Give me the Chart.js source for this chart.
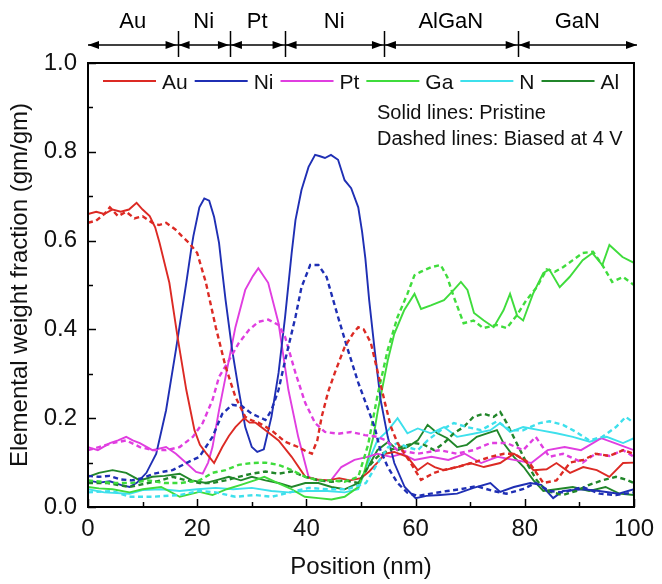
<!DOCTYPE html>
<html><head><meta charset="utf-8">
<script src="https://cdn.jsdelivr.net/npm/chart.js@4.4.1/dist/chart.umd.min.js"></script>
<style>html,body{margin:0;padding:0;background:#fff}#wrap{width:662px;height:584px}</style>
</head><body><div id="wrap"><canvas id="c" width="662" height="584"></canvas></div>
<script>
// ---------- DATA ----------
const elements = ['Au', 'Ni', 'Pt', 'Ga', 'N', 'Al'];
const xTickValues = [0, 20, 40, 60, 80, 100];
const yTickValues = [0.0, 0.2, 0.4, 0.6, 0.8, 1.0];
const regionEdges = [0, 16.4, 26.0, 36.0, 54.2, 78.7, 100];
const regionNames = ['Au', 'Ni', 'Pt', 'Ni', 'AlGaN', 'GaN'];
const noteLines = ['Solid lines: Pristine', 'Dashed lines: Biased at 4 V'];

const auSolid = [[0,0.66],[1.5,0.665],[3,0.66],[4.5,0.67],[6,0.665],[7.5,0.67],[8.9,0.685],[10,0.67],[11.3,0.655],[12.3,0.63],[13.1,0.595],[14.9,0.505],[16.4,0.383],[18,0.264],[19.5,0.173],[20.5,0.14],[21.6,0.122],[23.1,0.099],[24.6,0.135],[25.8,0.16],[27,0.18],[28.6,0.2],[29.6,0.19],[30.7,0.19],[32.5,0.173],[34.9,0.15],[37.3,0.113],[39.8,0.068],[42,0.062],[44,0.06],[46,0.065],[48,0.06],[50,0.065],[51.5,0.08],[53,0.1],[54.4,0.12],[56.1,0.124],[58.5,0.113],[60.4,0.083],[62.2,0.099],[63.5,0.09],[65.2,0.083],[67.6,0.09],[70,0.099],[72.5,0.09],[75.5,0.099],[78,0.12],[79.8,0.106],[81.6,0.083],[84,0.085],[85.8,0.099],[88.3,0.077],[90.7,0.09],[93.2,0.083],[95.5,0.068],[98,0.099],[100,0.1]];
const auDashed = [[0,0.64],[1.5,0.645],[3,0.66],[4,0.675],[5.5,0.655],[7,0.665],[8.5,0.65],[10,0.655],[11.8,0.64],[13,0.635],[14.3,0.64],[16,0.625],[17.2,0.61],[18.5,0.595],[20,0.572],[21.6,0.505],[23.4,0.405],[25.2,0.316],[27,0.248],[28.8,0.203],[30,0.195],[31.2,0.19],[33.6,0.173],[36.1,0.147],[38.5,0.135],[40,0.125],[41,0.12],[42,0.15],[42.8,0.203],[44,0.26],[45.2,0.302],[47,0.36],[48.5,0.39],[49.5,0.405],[50.5,0.4],[51.8,0.37],[53.1,0.302],[54.4,0.234],[55.5,0.18],[56.7,0.144],[59.1,0.099],[61,0.061],[63.4,0.077],[65,0.083],[67.6,0.09],[70.6,0.1],[73.7,0.113],[76.2,0.12],[78,0.12],[80.9,0.099],[83.4,0.054],[85.8,0.06],[88.3,0.1],[90.7,0.106],[93,0.12],[95.5,0.115],[98,0.128],[100,0.12]];
const niSolid = [[0,0.06],[2,0.055],[4,0.058],[6,0.05],[7.6,0.045],[9,0.055],[10.7,0.077],[12.5,0.12],[14.3,0.218],[16.1,0.354],[18,0.505],[18.9,0.58],[19.3,0.61],[20.4,0.675],[21.3,0.695],[22.2,0.69],[23.1,0.653],[24,0.595],[24.5,0.54],[25.2,0.466],[26.4,0.354],[27.6,0.264],[28.8,0.18],[30,0.135],[31,0.124],[32.2,0.13],[33.6,0.203],[34.9,0.302],[36.1,0.428],[37.3,0.572],[38,0.646],[39.1,0.714],[40.4,0.766],[41.6,0.793],[42.5,0.79],[43.4,0.786],[44.5,0.793],[45.8,0.782],[47,0.736],[48.2,0.718],[49.5,0.675],[50.2,0.62],[50.8,0.56],[51.5,0.466],[52.5,0.354],[53.6,0.241],[54.9,0.158],[56.1,0.099],[58,0.045],[60,0.02],[62,0.025],[64.5,0.027],[67.6,0.03],[70.6,0.043],[73.7,0.054],[75.5,0.034],[78,0.045],[81,0.054],[83,0.05],[85.2,0.02],[87,0.036],[90.7,0.04],[93.6,0.036],[97.2,0.03],[100,0.04]];
const niDashed = [[0,0.07],[2,0.068],[4,0.07],[6,0.062],[8,0.06],[10,0.065],[12,0.075],[14,0.08],[15.5,0.083],[18,0.099],[20.4,0.113],[22.8,0.158],[24.6,0.21],[26.4,0.23],[28.2,0.227],[30,0.21],[32.5,0.196],[33.6,0.218],[34.9,0.264],[36.1,0.33],[38,0.428],[39.1,0.495],[40.7,0.545],[42.2,0.545],[43.7,0.518],[45.8,0.428],[47.6,0.354],[49.5,0.28],[51.3,0.22],[52.5,0.18],[53.5,0.13],[54.9,0.09],[56.7,0.054],[58.5,0.032],[60.4,0.025],[62.8,0.03],[65.8,0.036],[68.2,0.04],[71.2,0.047],[74.2,0.036],[76.6,0.03],[79.6,0.04],[82,0.054],[84.5,0.036],[87,0.033],[90.6,0.045],[93.7,0.03],[96.7,0.027],[100,0.033]];
const ptSolid = [[0,0.135],[1.8,0.128],[4,0.144],[5.5,0.15],[7,0.158],[8.2,0.15],[9.5,0.144],[11.8,0.128],[14.3,0.135],[16.1,0.12],[18,0.099],[19.8,0.079],[21,0.075],[22,0.1],[22.8,0.135],[24,0.218],[25.2,0.293],[27,0.405],[28.8,0.489],[30.2,0.52],[31.2,0.538],[33,0.505],[34.9,0.414],[36.7,0.264],[38.5,0.158],[40.4,0.068],[42.2,0.06],[44.5,0.06],[46.4,0.09],[48.8,0.106],[51.2,0.113],[53,0.12],[55.5,0.113],[57.5,0.12],[59.8,0.106],[62.9,0.113],[66,0.106],[69,0.12],[72,0.099],[75,0.113],[78,0.106],[81.2,0.099],[84.2,0.128],[87.3,0.135],[90.3,0.128],[94,0.155],[96.5,0.144],[100,0.128]];
const ptDashed = [[0,0.128],[2,0.135],[4.5,0.144],[7,0.15],[9.5,0.135],[12,0.128],[14.3,0.128],[16.8,0.135],[19.2,0.158],[21,0.189],[22.8,0.241],[24,0.293],[25.8,0.33],[27.6,0.369],[29.5,0.399],[31.2,0.417],[33,0.422],[34.9,0.41],[36.1,0.383],[38,0.302],[39.8,0.234],[41.6,0.189],[43.4,0.169],[45.8,0.165],[48.2,0.169],[50.7,0.162],[53,0.158],[54.4,0.151],[56.7,0.128],[60.4,0.12],[64.5,0.128],[67.5,0.12],[70.6,0.128],[73.7,0.144],[76.7,0.144],[79.7,0.128],[82,0.158],[84.5,0.113],[87,0.12],[90.6,0.1],[93,0.12],[95.5,0.115],[98,0.128],[100,0.113]];
const gaSolid = [[0,0.045],[2,0.042],[4.5,0.04],[7.6,0.033],[10,0.04],[13.4,0.045],[16.8,0.023],[20.4,0.034],[22.8,0.027],[25.4,0.04],[28,0.05],[30.5,0.06],[32.3,0.068],[34.8,0.054],[37.3,0.04],[39.7,0.023],[42.2,0.02],[44.6,0.017],[47,0.023],[49.5,0.045],[50.5,0.075],[51.3,0.11],[52.3,0.16],[53.1,0.218],[54.9,0.33],[56.1,0.39],[57.9,0.443],[59.8,0.48],[61,0.446],[62.8,0.454],[65.2,0.466],[67,0.489],[68.3,0.507],[69.5,0.489],[70.7,0.437],[72.5,0.42],[74.3,0.405],[76.1,0.443],[77.3,0.48],[78.6,0.431],[79.7,0.42],[81.5,0.48],[83.4,0.527],[84.5,0.535],[86.4,0.495],[88.2,0.518],[90.6,0.556],[92.4,0.572],[94.2,0.545],[95.5,0.59],[97.9,0.563],[100,0.55]];
const gaDashed = [[0,0.06],[4.5,0.054],[8,0.054],[11,0.06],[14,0.054],[17,0.054],[20.4,0.06],[22.8,0.077],[25.2,0.083],[27.6,0.095],[30,0.099],[32.5,0.1],[34.9,0.095],[37.3,0.083],[39.8,0.068],[42.2,0.06],[44.6,0.06],[47,0.057],[49.5,0.068],[51.3,0.14],[53.1,0.256],[54.9,0.354],[56.7,0.428],[58.5,0.48],[59.8,0.522],[61,0.53],[62.8,0.54],[64.6,0.545],[65.8,0.518],[67,0.473],[68.8,0.414],[70.6,0.42],[72.4,0.403],[74.8,0.41],[76.7,0.403],[78.5,0.431],[80.3,0.466],[82.2,0.495],[84,0.535],[85.5,0.53],[87,0.54],[88.8,0.556],[90.6,0.572],[92.5,0.575],[94.2,0.545],[96,0.507],[98,0.518],[100,0.5]];
const nSolid = [[0,0.04],[3,0.033],[7.6,0.03],[10,0.038],[13.4,0.04],[16.8,0.036],[20,0.04],[23.4,0.043],[26.6,0.04],[30,0.043],[33.6,0.036],[36.7,0.033],[40,0.036],[43.8,0.036],[47,0.033],[49.5,0.04],[51.3,0.1],[53,0.15],[55,0.173],[56.7,0.2],[58.5,0.166],[60.4,0.177],[62.8,0.166],[65.2,0.18],[67.6,0.158],[70.6,0.165],[73.7,0.173],[75.5,0.189],[77.3,0.169],[79.7,0.18],[82.7,0.173],[85.8,0.166],[88.8,0.158],[91.9,0.147],[95,0.158],[98,0.144],[100,0.155]];
const nDashed = [[0,0.033],[4.5,0.036],[7.6,0.023],[11.8,0.023],[16.8,0.027],[20.4,0.036],[23.4,0.033],[27,0.023],[30.5,0.027],[33.6,0.023],[37,0.033],[40.4,0.043],[44,0.04],[47.5,0.04],[50.9,0.054],[53.1,0.1],[55,0.135],[56.7,0.144],[58.5,0.135],[60.4,0.128],[62.2,0.15],[64.6,0.173],[67,0.189],[69.4,0.18],[72,0.173],[74.9,0.193],[77.3,0.173],[79.7,0.173],[82.7,0.189],[84.5,0.193],[87,0.185],[89.4,0.169],[91.8,0.15],[94.2,0.158],[96.7,0.18],[98.5,0.203],[100,0.189]];
const alSolid = [[0,0.068],[2,0.077],[4.5,0.083],[7,0.077],[9.5,0.06],[11.8,0.068],[14,0.07],[16.8,0.075],[19,0.06],[21.6,0.054],[23.4,0.06],[25.8,0.068],[28,0.06],[30,0.068],[32.5,0.06],[34.9,0.054],[37.3,0.045],[39.8,0.054],[42.2,0.054],[44.6,0.045],[47,0.04],[49.5,0.054],[51.3,0.09],[53,0.128],[55,0.147],[56.7,0.128],[58.5,0.135],[60.4,0.15],[62.2,0.185],[64,0.166],[65.8,0.155],[67.6,0.135],[69.4,0.14],[71.2,0.158],[73.1,0.166],[74.9,0.173],[76.1,0.144],[78,0.113],[79.8,0.09],[81.6,0.06],[83.4,0.036],[85.8,0.04],[88.8,0.045],[91.8,0.036],[94.8,0.045],[97.3,0.03],[100,0.027]];
const alDashed = [[0,0.054],[3.6,0.054],[7.6,0.045],[11,0.054],[13.4,0.06],[15.5,0.068],[18,0.06],[20.4,0.054],[22.8,0.054],[25.2,0.06],[27.6,0.068],[30,0.075],[32.5,0.08],[34.9,0.075],[37.3,0.08],[39.8,0.068],[42.2,0.06],[44.6,0.057],[47,0.06],[49.5,0.054],[51.3,0.09],[53,0.113],[55,0.128],[57.3,0.135],[59.8,0.144],[61.6,0.14],[63.4,0.128],[65.2,0.144],[67,0.166],[68.8,0.18],[70.6,0.203],[72.5,0.21],[74.3,0.203],[75.5,0.214],[76.7,0.189],[78.5,0.144],[80.3,0.1],[82.2,0.06],[84,0.036],[87,0.027],[89.4,0.036],[91.8,0.05],[94.2,0.06],[96.7,0.068],[98.5,0.062],[100,0.054]];

const solidSeries = [auSolid, niSolid, ptSolid, gaSolid, nSolid, alSolid];
const dashedSeries = [auDashed, niDashed, ptDashed, gaDashed, nDashed, alDashed];

// ---------- STYLE ----------
const colors = ['#dc2a24', '#1f2fb4', '#e03ee0', '#3fdc3c', '#3ee0ec', '#21862a'];
const FONT = "'Liberation Sans', Arial, sans-serif";

const datasets = [];
elements.forEach((el, i) => {
  datasets.push({label: el + ' (dashed)', data: dashedSeries[i], borderColor: colors[i], borderWidth: 2.4, borderDash: [5, 3.5], pointRadius: 0, fill: false, tension: 0});
});
elements.forEach((el, i) => {
  datasets.push({label: el, data: solidSeries[i], borderColor: colors[i], borderWidth: 1.9, pointRadius: 0, fill: false, tension: 0});
});

const framePlugin = {
  id: 'frame',
  afterDraw(chart) {
    const ctx = chart.ctx, a = chart.chartArea;
    const xs = chart.scales.x, ys = chart.scales.y;
    ctx.save();
    // ticks (inward)
    ctx.strokeStyle = '#000'; ctx.lineWidth = 1.5;
    for (let v = 0; v <= 100; v += 10) {
      const px = Math.round(xs.getPixelForValue(v)) + 0.5;
      const len = (v % 20 === 0) ? 8 : 5;
      ctx.beginPath(); ctx.moveTo(px, a.bottom); ctx.lineTo(px, a.bottom - len); ctx.stroke();
    }
    for (let i = 0; i <= 10; i++) {
      const py = Math.round(ys.getPixelForValue(i / 10)) + 0.5;
      const len = (i % 2 === 0) ? 8 : 5;
      ctx.beginPath(); ctx.moveTo(a.left, py); ctx.lineTo(a.left + len, py); ctx.stroke();
    }
    // box
    ctx.lineWidth = 2;
    ctx.strokeRect(a.left, a.top, a.right - a.left, a.bottom - a.top);

    // legend
    ctx.font = '21px ' + FONT;
    ctx.textBaseline = 'middle';
    ctx.textAlign = 'left';
    let x = a.left + 15;
    const ly = a.top + 18;
    elements.forEach((el, i) => {
      ctx.strokeStyle = colors[i]; ctx.lineWidth = 1.8;
      ctx.beginPath(); ctx.moveTo(x, ly); ctx.lineTo(x + 53, ly); ctx.stroke();
      x += 59;
      ctx.fillStyle = '#111';
      ctx.fillText(el, x, ly + 2);
      x += ctx.measureText(el).width + 7;
    });
    // notes
    ctx.font = '20px ' + FONT;
    ctx.textBaseline = 'alphabetic';
    noteLines.forEach((t, i) => ctx.fillText(t, a.left + 289, a.top + 56 + i * 26));

    // top region arrows
    const ay = 45;
    ctx.strokeStyle = '#000'; ctx.fillStyle = '#000'; ctx.lineWidth = 1.5;
    const x0 = xs.getPixelForValue(regionEdges[0]);
    const x1 = xs.getPixelForValue(regionEdges[regionEdges.length - 1]) + 3;
    ctx.beginPath(); ctx.moveTo(x0, ay); ctx.lineTo(x1, ay); ctx.stroke();
    const head = (tip, dir) => {
      ctx.beginPath();
      ctx.moveTo(tip, ay);
      ctx.lineTo(tip - dir * 11, ay - 4);
      ctx.lineTo(tip - dir * 11, ay + 4);
      ctx.closePath(); ctx.fill();
    };
    for (let i = 0; i < regionNames.length; i++) {
      let l = xs.getPixelForValue(regionEdges[i]);
      let r = xs.getPixelForValue(regionEdges[i + 1]);
      if (i === regionNames.length - 1) r += 3;
      const lt = (i === 0) ? l : l + 1;
      const rt = (i === regionNames.length - 1) ? r : r - 1;
      head(lt, -1); head(rt, 1);
      ctx.font = '22px ' + FONT;
      ctx.textAlign = 'center'; ctx.textBaseline = 'middle';
      ctx.fillText(regionNames[i], (l + r) / 2, 22);
    }
    for (let i = 1; i < regionEdges.length - 1; i++) {
      const px = Math.round(xs.getPixelForValue(regionEdges[i])) + 0.5;
      ctx.beginPath(); ctx.moveTo(px, 31); ctx.lineTo(px, 57); ctx.stroke();
    }
    ctx.restore();
  }
};

new Chart(document.getElementById('c'), {
  type: 'line',
  data: {datasets},
  options: {
    responsive: false,
    animation: false,
    devicePixelRatio: 1,
    layout: {padding: {left: 0, right: 23, top: 63, bottom: 0}},
    plugins: {legend: {display: false}, tooltip: {enabled: false}},
    scales: {
      x: {
        type: 'linear', min: 0, max: 100,
        afterBuildTicks: s => { s.ticks = xTickValues.map(v => ({value: v})); },
        afterFit: s => { s.height = 77; },
        grid: {display: false, drawTicks: false},
        border: {display: false},
        ticks: {color: '#111', font: {family: FONT, size: 24}, padding: 8, maxRotation: 0, autoSkip: false},
        title: {display: true, text: 'Position (nm)', color: '#111', font: {family: FONT, size: 24}, padding: {top: 4, bottom: 2}}
      },
      y: {
        type: 'linear', min: 0, max: 1,
        afterBuildTicks: s => { s.ticks = yTickValues.map(v => ({value: v})); },
        afterFit: s => { s.width = 88; },
        grid: {display: false, drawTicks: false},
        border: {display: false},
        ticks: {color: '#111', font: {family: FONT, size: 24}, padding: 11, callback: v => Number(v).toFixed(1)},
        title: {display: true, text: 'Elemental weight fraction (gm/gm)', color: '#111', font: {family: FONT, size: 24}, padding: {top: 6, bottom: 4}}
      }
    }
  },
  plugins: [framePlugin]
});
</script>
</body></html>
